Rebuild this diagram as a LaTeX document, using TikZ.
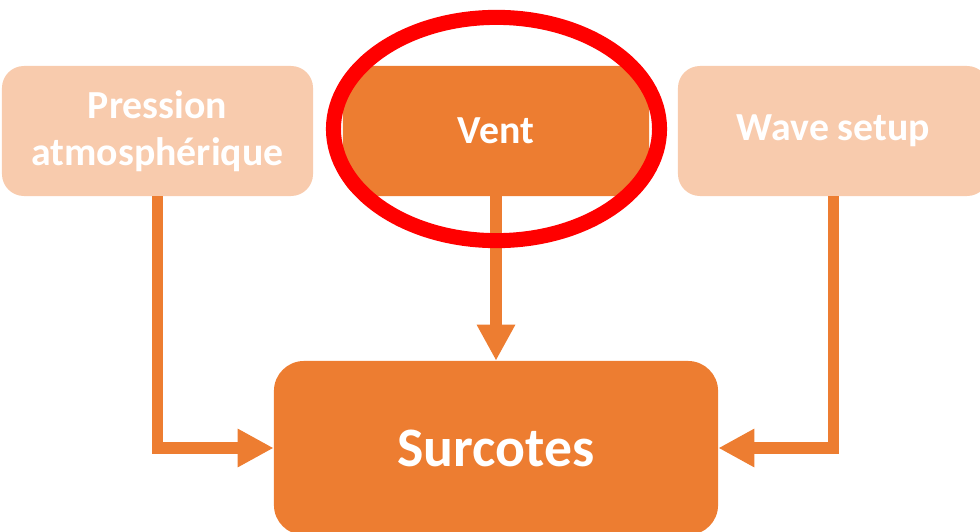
\documentclass[tikz,border=0pt]{standalone}
\usepackage{fontspec}
\setmainfont{Carlito}
\usepackage{tikz}
\usetikzlibrary{arrows.meta,positioning,calc}
\definecolor{darkorange}{HTML}{ED7D31}
\definecolor{paleorange}{HTML}{F8CBAD}
\tikzset{
  srcbox/.style={rounded corners=0.55cm,minimum width=7.775cm,minimum height=3.25cm,
    inner sep=0pt,text=white,align=center,font=\bfseries\fontsize{28.3}{33.4}\selectfont},
  conn/.style={draw=darkorange,line width=8.5pt,-{Triangle[length=0.9cm,width=0.9cm]}}
}
\begin{document}
\begin{tikzpicture}[x=0.025cm,y=-0.025cm]
  \useasboundingbox (0,0) rectangle (980,532);
  \clip (0,0) rectangle (980,532);
  \node[srcbox,fill=paleorange] (pression) at (157.5,131) {Pression\\atmosphérique};
  \node[srcbox,fill=darkorange,minimum width=7.65cm] (vent) at (496,131) {Vent};
  \node[srcbox,fill=paleorange] (wave) at (833.5,131) {Wave setup};
  \node[srcbox,fill=darkorange,rounded corners=0.75cm,minimum width=11.1cm,minimum height=4.35cm,
    font=\bfseries\fontsize{39.6}{46}\selectfont] (surcotes) at (496,448) {Surcotes};
  \draw[conn] (pression.south) |- (surcotes.west);
  \draw[conn] (vent.south) -- (surcotes.north);
  \draw[conn] (wave.south) |- (surcotes.east);
  \draw[red,line width=10.7pt] ($(vent.center)+(0.5,-2)$) ellipse [x radius=4.075cm,y radius=2.79cm];
\end{tikzpicture}
\end{document}
